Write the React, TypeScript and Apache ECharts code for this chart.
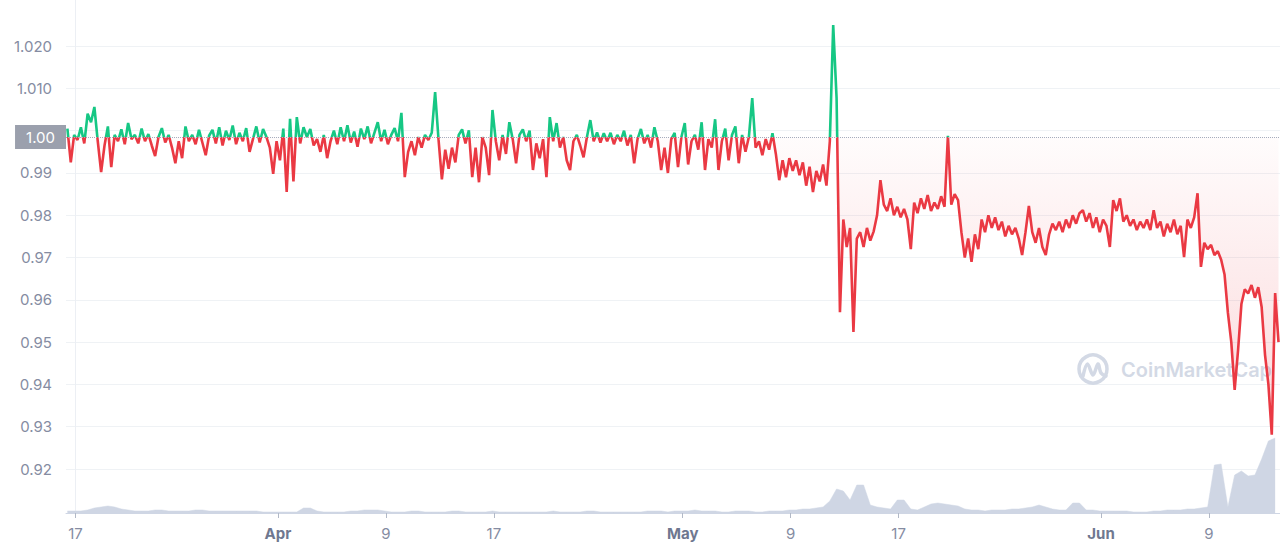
import React, { useEffect, useRef } from "react";
import * as echarts from "echarts";

// Price baseline (opening price of the period)
const BASELINE = 0.9985;

// Price series, in USD, sampled every 6 hours starting Mar 16 ~14:00 (day offsets from Mar 17)
const PRICE_START_DAY = -0.6;
const PRICE_STEP_DAYS = 0.25;
const priceMarLate = [
  1.0005, 0.9925, 0.999, 0.9978, 1.0008, 0.997, 1.004, 1.002, 1.0056, 0.9975,
  0.9902, 0.9965, 1.001, 0.9914, 0.999, 0.9975, 1.0003, 0.9968, 1.0018, 0.998,
  0.999, 0.997, 1.0005, 0.9975, 0.9992, 0.9965, 0.994, 0.9985, 1.0006, 0.9972,
  0.999, 0.996, 0.9923, 0.9975, 0.9935, 1.001, 0.9975, 0.999, 0.9968, 1.0002,
];
const priceMarApr = [
  0.9972, 0.9942, 0.9988, 1.0002, 0.997, 1.0008, 0.9965, 1.0, 0.9978, 1.0012,
  0.9968, 0.9995, 0.9975, 1.0006, 0.995, 0.998, 1.001, 0.9972, 1.0004, 0.9985,
  0.996, 0.9898, 0.9975, 0.993, 1.0005, 0.9855, 1.0028, 0.988, 1.0032, 0.997,
  1.0008, 0.9985, 1.0004, 0.9965, 0.998, 0.995, 0.999, 0.9935, 0.9975, 1.0,
];
const priceAprMid = [
  0.9968, 1.0008, 0.9975, 1.0013, 0.9972, 0.9998, 0.9962, 1.0005, 0.998, 1.001,
  0.997, 0.9995, 1.002, 0.9975, 1.0002, 0.9968, 0.999, 1.0006, 0.9975, 1.0042,
  0.989, 0.995, 0.9975, 0.9942, 0.9985, 0.996, 0.999, 0.9978, 0.9995, 1.0091,
  0.998, 0.9885, 0.9955, 0.991, 0.996, 0.9925, 0.999, 1.0003, 0.997, 1.0001,
];
const priceAprLate = [
  0.989, 0.996, 0.9878, 0.9985, 0.996, 0.9895, 1.0049, 0.9975, 0.993, 0.999,
  0.9945, 1.002, 0.998, 0.9923, 0.999, 1.0003, 0.9975, 1.0, 0.9907, 0.997,
  0.9935, 0.998, 0.989, 1.0032, 0.9975, 1.0018, 0.996, 0.9985, 0.993, 0.9907,
  0.9975, 0.999, 0.9965, 0.9937, 0.9985, 1.0025, 0.9975, 0.9996, 0.9972, 0.9994,
];
const priceMayEarly = [
  0.9975, 0.9995, 0.9968, 0.999, 0.9975, 1.0, 0.9965, 0.999, 0.9923, 0.998,
  1.0004, 0.997, 0.999, 0.996, 1.0008, 0.9975, 0.9907, 0.996, 0.99, 0.998,
  0.9995, 0.9914, 0.9985, 1.0018, 0.992, 0.9975, 0.999, 0.9955, 1.002, 0.9907,
  0.998, 0.996, 1.0027, 0.9907, 0.9975, 1.0005, 0.993, 0.999, 1.001, 0.9923,
];
const priceMayMid = [
  0.999, 0.995, 0.9985, 1.0077, 0.996, 0.9975, 0.9942, 0.998, 0.9955, 0.9994,
  0.9945, 0.9883, 0.993, 0.989, 0.9935, 0.9905, 0.993, 0.9895, 0.9925, 0.987,
  0.9915, 0.9855, 0.9905, 0.988, 0.992, 0.987, 0.9975, 1.025, 1.0077, 0.9571,
  0.979, 0.9725, 0.977, 0.9524, 0.9745, 0.976, 0.9725, 0.977, 0.974, 0.9762,
];
const priceMayLate = [
  0.98, 0.9883, 0.9825, 0.981, 0.984, 0.98, 0.982, 0.9795, 0.9815, 0.979,
  0.972, 0.983, 0.9805, 0.984, 0.9815, 0.9848, 0.981, 0.983, 0.9815, 0.9845,
  0.982, 0.9988, 0.9825, 0.985, 0.9836, 0.976, 0.97, 0.9745, 0.969, 0.9755,
  0.972, 0.979, 0.976, 0.98, 0.977, 0.9795, 0.9765, 0.9785, 0.975, 0.9775,
];
const priceMayJun = [
  0.9755, 0.977, 0.9745, 0.9706, 0.976, 0.9822, 0.976, 0.9735, 0.977, 0.9725,
  0.9706, 0.9755, 0.978, 0.9765, 0.9785, 0.976, 0.979, 0.977, 0.98, 0.978,
  0.9805, 0.9812, 0.9785, 0.9805, 0.977, 0.9795, 0.976, 0.979, 0.9775, 0.9725,
  0.9836, 0.981, 0.984, 0.9785, 0.98, 0.9775, 0.979, 0.9765, 0.9785, 0.977,
];
const priceJun = [
  0.979, 0.9765, 0.9812, 0.977, 0.9785, 0.975, 0.978, 0.976, 0.979, 0.9755,
  0.9775, 0.9701, 0.979, 0.977, 0.9795, 0.9852, 0.9678, 0.9735, 0.972, 0.973,
  0.9706, 0.9715, 0.9695, 0.966, 0.9569, 0.95, 0.9387, 0.948, 0.959, 0.9625,
  0.9615, 0.9635, 0.9605, 0.963, 0.9583, 0.947, 0.94, 0.9281, 0.9616, 0.95,
];

// Volume, in millions of USD, sampled every 12 hours
const VOLUME_START_DAY = -0.6;
const VOLUME_STEP_DAYS = 0.5;
const volumeMarApr = [
  20, 20, 20, 30, 50, 60, 70, 60, 40, 30, 20, 20, 20, 30, 30, 20, 20, 20, 20, 30,
  30, 20, 20, 20, 20, 20, 20, 20, 20, 10, 10, 10, 10, 10, 10, 50, 50, 20, 10, 10,
];
const volumeApr = [
  10, 10, 20, 20, 30, 30, 30, 20, 10, 10, 10, 20, 20, 10, 10, 10, 10, 20, 20, 10,
  10, 10, 10, 20, 10, 10, 10, 10, 10, 10, 10, 10, 20, 10, 10, 10, 10, 20, 20, 10,
];
const volumeMay = [
  10, 10, 10, 10, 10, 10, 20, 20, 20, 10, 20, 20, 20, 30, 20, 20, 20, 10, 10, 20,
  20, 20, 10, 10, 20, 20, 20, 30, 30, 40, 40, 50, 60, 120, 240, 220, 130, 280, 280, 80,
];
const volumeMayJun = [
  60, 50, 40, 130, 130, 40, 30, 60, 90, 100, 90, 80, 70, 40, 30, 30, 20, 30, 30, 30,
  40, 40, 50, 60, 80, 60, 40, 30, 30, 100, 100, 30, 30, 20, 20, 20, 20, 20, 10, 10,
  10, 20, 20, 30, 30, 30, 40, 40, 50, 60, 480, 490, 60, 380, 420, 370, 380, 540, 720, 750,
];

// Axis ticks (x in days from Mar 17)
const xTickDays = [0, 15, 23, 31, 45, 53, 61, 76, 84];
const xTickLabels = ["17", "Apr", "9", "17", "May", "9", "17", "Jun", "9"];
const monthNames = ["Apr", "May", "Jun"];
const yTickValues = [0.92, 0.93, 0.94, 0.95, 0.96, 0.97, 0.98, 0.99, 1.0, 1.01, 1.02];
const yTickLabels = ["0.92", "0.93", "0.94", "0.95", "0.96", "0.97", "0.98", "0.99", "", "1.010", "1.020"];
const baselineLabel = "1.00";

const X_MIN = -0.704;
const X_MAX = 89.26;
const Y_MIN = 0.9096;
const Y_MAX = 1.0309;
const VOLUME_AXIS_MAX = 5130;

const GREEN = "#16c784";
const RED = "#ea3943";

function toSeries(values: number[], start: number, step: number) {
  return values.map((v, i) => [start + i * step, v]);
}

export default function App() {
  const ref = useRef<HTMLDivElement>(null);

  useEffect(() => {
    if (!ref.current) return;
    const chart = echarts.init(ref.current, null, { renderer: "svg" });

    const price = [
      ...priceMarLate, ...priceMarApr, ...priceAprMid, ...priceAprLate, ...priceMayEarly,
      ...priceMayMid, ...priceMayLate, ...priceMayJun, ...priceJun,
    ];
    const volume = [...volumeMarApr, ...volumeApr, ...volumeMay, ...volumeMayJun];

    const font = "Inter, 'Noto Sans', sans-serif";
    const labelColor = "#858ca2";
    const wmColor = "#d3d9e5";

    chart.setOption({
      animation: false,
      backgroundColor: "#ffffff",
      grid: { left: 66, right: 0, top: 0, bottom: 38 },
      xAxis: {
        type: "value",
        min: X_MIN,
        max: X_MAX,
        axisLine: { show: true, lineStyle: { color: "#cfd6e4", width: 1 } },
        axisTick: { show: true, length: 5, lineStyle: { color: "#b2b9c7" }, customValues: xTickDays },
        splitLine: { show: false },
        axisLabel: {
          customValues: xTickDays,
          margin: 13,
          fontFamily: font,
          fontSize: 15,
          color: "#858ca2",
          formatter: (v: number) => {
            const idx = xTickDays.findIndex((d) => Math.abs(d - v) < 1e-6);
            if (idx < 0) return "";
            const t = xTickLabels[idx];
            return monthNames.includes(t) ? `{m|${t}}` : t;
          },
          rich: {
            m: { fontFamily: font, fontSize: 15, fontWeight: 700, color: "#6f7890" },
          },
        },
      },
      yAxis: [
        {
          type: "value",
          min: Y_MIN,
          max: Y_MAX,
          axisLine: { show: true, lineStyle: { color: "#eceff4" } },
          axisTick: { show: false, customValues: yTickValues },
          splitLine: { show: true, lineStyle: { color: "#eff2f5", width: 1 } },
          axisLabel: {
            customValues: yTickValues,
            margin: 14,
            fontFamily: font,
            fontSize: 15,
            color: labelColor,
            formatter: (v: number) => {
              const idx = yTickValues.findIndex((d) => Math.abs(d - v) < 1e-6);
              return idx < 0 ? "" : yTickLabels[idx];
            },
          },
        },
        {
          type: "value",
          min: 0,
          max: VOLUME_AXIS_MAX,
          show: false,
          splitLine: { show: false },
        },
      ],
      visualMap: {
        show: false,
        type: "piecewise",
        seriesIndex: 0,
        dimension: 1,
        pieces: [
          { gt: 0, lte: BASELINE, color: RED },
          { gt: BASELINE, lte: 2, color: GREEN },
        ],
        outOfRange: { color: RED },
      },
      graphic: [
        {
          type: "circle",
          z: 1,
          silent: true,
          shape: { cx: 1093, cy: 369, r: 14 },
          style: { fill: "none", stroke: wmColor, lineWidth: 3.5 },
        },
        {
          type: "polyline",
          z: 1,
          silent: true,
          shape: {
            points: [[1083, 376], [1087.5, 364], [1093, 375], [1098, 364], [1101, 373], [1106, 376]],
            smooth: 0.35,
          },
          style: { fill: "none", stroke: wmColor, lineWidth: 3.5, lineCap: "round", lineJoin: "round" },
        },
        {
          type: "text",
          z: 1,
          silent: true,
          x: 1121,
          y: 370,
          style: {
            text: "CoinMarketCap",
            fill: wmColor,
            font: `600 20px ${font}`,
            verticalAlign: "middle",
            align: "left",
          },
        },
      ],
      series: [
        {
          name: "Price",
          type: "line",
          z: 4,
          data: toSeries(price, PRICE_START_DAY, PRICE_STEP_DAYS),
          showSymbol: false,
          symbol: "none",
          lineStyle: { width: 2.6 },
          areaStyle: {
            origin: BASELINE,
            color: new echarts.graphic.LinearGradient(0, 0, 0, 1, [
              { offset: 0, color: "rgba(234,57,67,0)" },
              { offset: 0.27, color: "rgba(234,57,67,0.02)" },
              { offset: 1, color: "rgba(234,57,67,0.28)" },
            ]),
          },
          markLine: {
            silent: true,
            symbol: "none",
            precision: 6,
            lineStyle: { type: "dotted", color: "#a6adbd", width: 1 },
            label: {
              show: true,
              position: "start",
              distance: 0,
              formatter: baselineLabel,
              backgroundColor: "#9ba0ad",
              color: "#ffffff",
              fontFamily: font,
              fontSize: 15,
              lineHeight: 18,
              padding: [3, 11, 3, 11],
            },
            data: [{ yAxis: BASELINE }],
          },
        },
        {
          name: "Volume",
          type: "line",
          yAxisIndex: 1,
          z: 2,
          data: toSeries(volume, VOLUME_START_DAY, VOLUME_STEP_DAYS),
          showSymbol: false,
          symbol: "none",
          lineStyle: { width: 0.5, color: "#cfd6e4" },
          itemStyle: { color: "#cfd6e4" },
          areaStyle: { color: "#cfd6e4", opacity: 1 },
        },
      ],
    });

    return () => chart.dispose();
  }, []);

  return (
    <div
      ref={ref}
      style={{ position: "fixed", left: 0, top: 0, width: 1280, height: 551, background: "#fff" }}
    />
  );
}
